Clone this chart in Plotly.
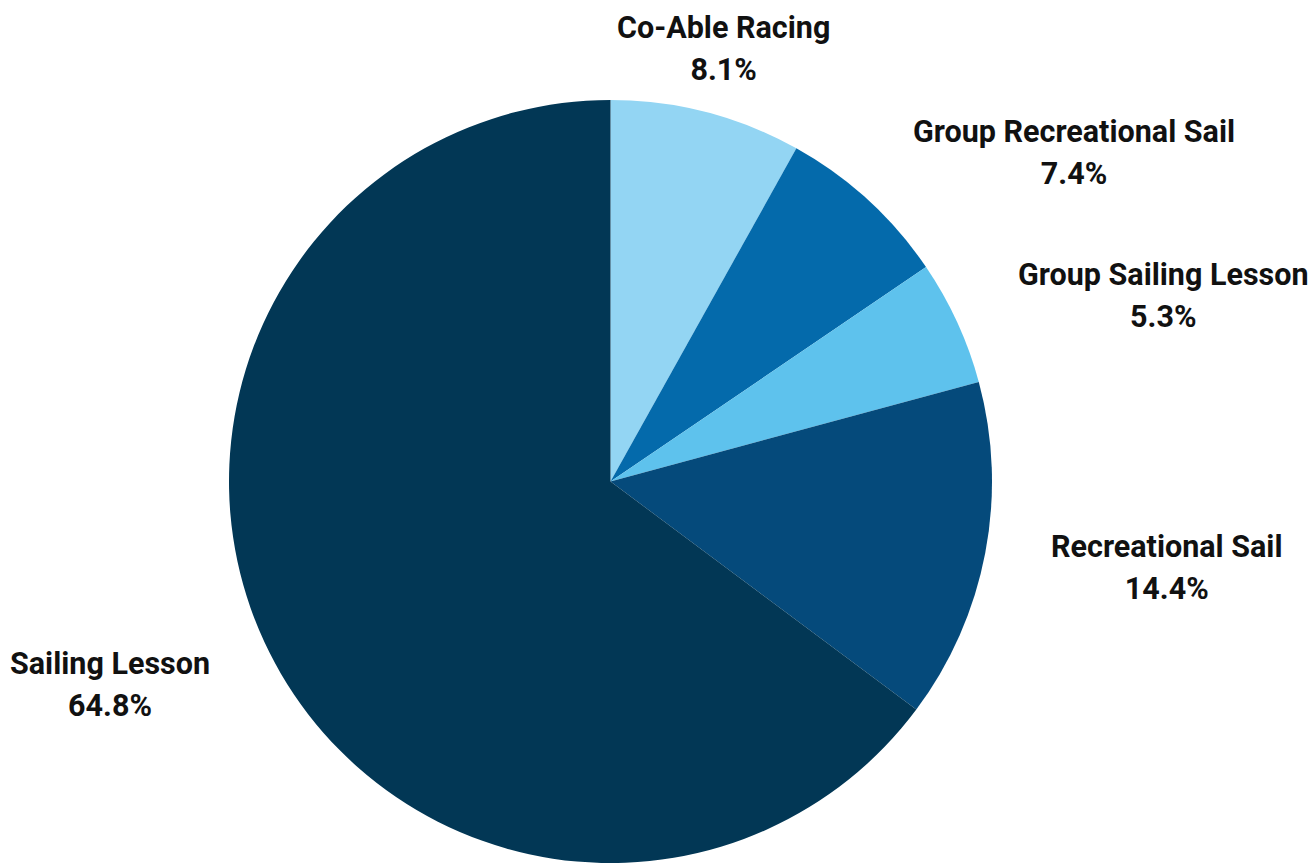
import math
import plotly.graph_objects as go

labels = ["Co-Able Racing", "Group Recreational Sail", "Group Sailing Lesson", "Recreational Sail", "Sailing Lesson"]
values = [8.1, 7.4, 5.3, 14.4, 64.8]
colors = ["#93D5F3", "#046AAB", "#5EC2ED", "#054A7B", "#023755"]

W, H = 1310, 863
# pie geometry in figure pixels
cx, cy, r = 610.5, 481.5, 381.5
label_gap = 67          # distance of label anchor beyond the rim
font_size = 30.5
line_font = 32.3        # controls the line spacing of the two-line labels

fig = go.Figure(go.Pie(
    labels=labels,
    values=values,
    sort=False,
    direction="clockwise",
    rotation=0,
    marker=dict(colors=colors, line=dict(width=0)),
    textinfo="none",
    domain=dict(x=[(cx - r) / W, (cx + r) / W],
                y=[max(0, 1 - (cy + r) / H), min(1, 1 - (cy - r) / H)]),
    showlegend=False,
    hoverinfo="label+percent",
))

total = sum(values)
cum = 0.0
R = r + label_gap
for lab, v in zip(labels, values):
    frac_mid = (cum + v / 2) / total
    cum += v
    ang = 2 * math.pi * frac_mid          # clockwise from 12 o'clock
    s, c = math.sin(ang), math.cos(ang)
    px = cx + R * s
    py = cy + 1.5 - R * c
    if abs(s) < 0.4:
        xa = "center"
    elif s > 0:
        xa = "left"
    else:
        xa = "right"
    pct = f"{100 * v / total:.1f}%"
    txt = (f"<span style='font-size:{font_size}px'><b>{lab}</b></span><br>"
           f"<span style='font-size:{font_size}px'><b>{pct}</b></span>")
    fig.add_annotation(
        x=px / W, y=1 - py / H, xref="paper", yref="paper",
        text=txt, showarrow=False, xanchor=xa, yanchor="middle", align="center",
        borderpad=0, borderwidth=0,
        font=dict(family="Roboto", size=line_font, color="#111111"),
    )

fig.update_layout(
    width=W, height=H,
    margin=dict(l=0, r=0, t=0, b=0),
    paper_bgcolor="white",
    plot_bgcolor="white",
)

fig.write_html(
    "out.html",
    config={"displayModeBar": False},
    post_script="document.body.style.margin='0';document.body.style.overflow='hidden';",
)
